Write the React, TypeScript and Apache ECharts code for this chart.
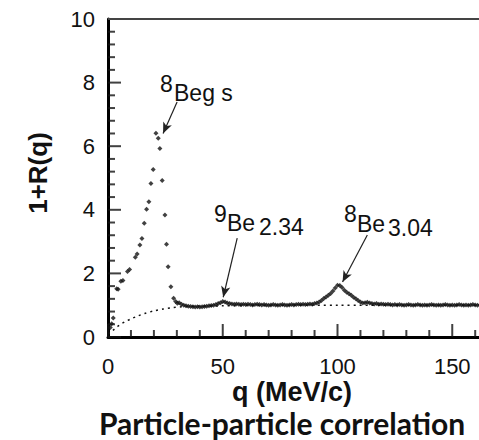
import React, { useEffect, useRef } from "react";
import * as echarts from "echarts";

// Sharp 8Be ground-state peak region (q in MeV/c, 1+R(q))
const peakPoints: [number, number][] = [
  [1.0, 0.3], [1.6, 0.42], [2.3, 0.6], [3.8, 1.52], [4.4, 1.5], [5.6, 1.75], [6.5, 1.78],
  [8.5, 2.06], [9.4, 2.12], [11.9, 2.51], [12.7, 2.61], [13.9, 2.89], [14.8, 3.1],
  [15.8, 3.58], [16.8, 4.02], [17.8, 4.25], [18.7, 4.83], [19.7, 5.27], [20.9, 6.41],
  [21.9, 6.25], [22.6, 5.93], [23.6, 4.92], [24.8, 3.84], [25.5, 2.92], [26.2, 2.21],
  [27.4, 1.58], [28.6, 1.22], [29.5, 1.12], [30.2, 1.06],
];

// Dense plateau with 9Be(2.34) and 8Be(3.04) bumps
const plateauPoints: [number, number][] = [
  [31, 1.08], [32, 1.03], [33, 1.0], [34, 0.98], [35, 0.97], [36, 0.96], [37, 0.95], [38, 0.94],
  [39, 0.95], [40, 0.94], [41, 0.95], [42, 0.96], [43, 0.97], [44, 0.98], [45, 0.99], [46, 1.0],
  [47, 1.02], [48, 1.05], [49, 1.08], [50, 1.12], [51, 1.1], [52, 1.07], [53, 1.05], [54, 1.04],
  [55, 1.03], [56, 1.04], [57, 1.03], [58, 1.02], [59, 1.03], [60, 1.02], [61, 1.03], [62, 1.02],
  [63, 1.01], [64, 1.02], [65, 1.03], [66, 1.02], [67, 1.01], [68, 1.02], [69, 1.01], [70, 1.0],
  [71, 1.01], [72, 1.02], [73, 1.01], [74, 1.0], [75, 1.01], [76, 1.02], [77, 1.01], [78, 1.0],
  [79, 1.01], [80, 1.02], [81, 1.01], [82, 1.02], [83, 1.03], [84, 1.02], [85, 1.03], [86, 1.02],
  [87, 1.03], [88, 1.04], [89, 1.03], [90, 1.05], [91, 1.07], [92, 1.1], [93, 1.15], [94, 1.21],
  [95, 1.26], [96, 1.31], [97, 1.37], [98, 1.45], [99, 1.54], [100, 1.63], [101, 1.62], [102, 1.56],
  [103, 1.47], [104, 1.41], [105, 1.36], [106, 1.31], [107, 1.25], [108, 1.2], [109, 1.15], [110, 1.1],
  [111, 1.07], [112, 1.08], [113, 1.09], [114, 1.07], [115, 1.05], [116, 1.04], [117, 1.05], [118, 1.03],
  [119, 1.04], [120, 1.03], [121, 1.02], [122, 1.03], [123, 1.02], [124, 1.01], [125, 1.02], [126, 1.01],
  [127, 1.02], [128, 1.01], [129, 1.0], [130, 1.01], [131, 1.02], [132, 1.01], [133, 1.0], [134, 1.01],
  [135, 1.02], [136, 1.01], [137, 1.0], [138, 1.01], [139, 1.0], [140, 1.01], [141, 1.02], [142, 1.01],
  [143, 1.0], [144, 1.01], [145, 1.0], [146, 1.01], [147, 1.02], [148, 1.01], [149, 1.0], [150, 1.01],
  [151, 1.0], [152, 1.01], [153, 1.02], [154, 1.01], [155, 1.0], [156, 1.01], [157, 1.0], [158, 1.01],
  [159, 1.02], [160, 1.01], [161, 1.0], [162, 1.01],
];

// Dotted background (uncorrelated) curve
const fitCurve: [number, number][] = [
  [0, 0.1], [2, 0.2], [4, 0.32], [6, 0.42], [8, 0.5], [10, 0.57], [13, 0.66], [16, 0.74],
  [20, 0.82], [24, 0.88], [28, 0.92], [32, 0.95], [38, 0.97], [50, 0.98], [65, 0.99],
  [80, 1.0], [100, 1.0], [130, 1.0], [165, 1.0],
];

// Arrow annotations: [from, to] in data coordinates
const arrows: [[number, number], [number, number]][] = [
  [[30.1, 7.39], [24.0, 6.4]],
  [[56.3, 3.11], [50.2, 1.25]],
  [[113.0, 3.21], [102.2, 1.73]],
];

// Top frame line of the plot box (q range at 1+R = 10)
const frameTop: [[number, number], [number, number]] = [[0, 10], [200, 10]];

// Inward tick marks
const xMajorTicks = [0, 50, 100, 150];
const xMinorTicks = [10, 20, 30, 40, 60, 70, 80, 90, 110, 120, 130, 140, 160];
const yMajorTicks = [0, 2, 4, 6, 8, 10];
const yMinorTicks = [
  0.4, 0.8, 1.2, 1.6, 2.4, 2.8, 3.2, 3.6, 4.4, 4.8, 5.2, 5.6,
  6.4, 6.8, 7.2, 7.6, 8.4, 8.8, 9.2, 9.6,
];

const xTitle = "q (MeV/c)";
const yTitle = "1+R(q)";
const chartTitle = "Particle-particle correlation";

export default function App() {
  const ref = useRef<HTMLDivElement>(null);
  useEffect(() => {
    if (!ref.current) return;
    const chart = echarts.init(ref.current, null, { renderer: "svg" });
    const labelFont = { fontFamily: "Liberation Sans", fontSize: 22, color: "#111" };
    const annFont = '23px "Liberation Sans"';
    const txt = (text: string, x: number, y: number, font: string, align = "left", extra: any = {}, lh?: number) => ({
      type: "text",
      x,
      y,
      ...extra,
      style: {
        text,
        font,
        fill: "#111",
        align,
        textAlign: align,
        verticalAlign: "middle",
        textVerticalAlign: "middle",
        ...(lh ? { lineHeight: lh } : {}),
      },
    });
    const tickScatter = (values: number[], isX: boolean, len: number) => ({
      type: "scatter",
      silent: true,
      clip: false,
      z: 3,
      data: values.map((v) => (isX ? [v, 0] : [0, v])),
      symbol: "rect",
      symbolSize: isX ? [2, len] : [len, 2],
      symbolOffset: isX ? [0, -len / 2] : [len / 2, 0],
      itemStyle: { color: "#111" },
    });
    chart.setOption({
      animation: false,
      backgroundColor: "#fff",
      grid: { left: 108, top: 19, bottom: 103, right: -88, outerBoundsMode: "none", containLabel: false },
      xAxis: {
        type: "value",
        min: 0,
        max: 200,
        interval: 50,
        axisLine: { show: true, onZero: false, lineStyle: { color: "#000", width: 3 } },
        axisTick: { show: false },
        minorTick: { show: false },
        axisLabel: { margin: 18, showMaxLabel: false, ...labelFont },
        splitLine: { show: false },
      },
      yAxis: {
        type: "value",
        min: 0,
        max: 10,
        interval: 2,
        axisLine: { show: true, onZero: false, lineStyle: { color: "#000", width: 3 } },
        axisTick: { show: false },
        minorTick: { show: false },
        axisLabel: { margin: 13, ...labelFont },
        splitLine: { show: false },
      },
      series: [
        {
          type: "line",
          data: fitCurve,
          showSymbol: false,
          smooth: 0.3,
          lineStyle: { type: [2, 4], width: 1.5, color: "#111" },
          z: 1,
          markLine: {
            silent: true,
            symbol: ["none", "none"],
            label: { show: false },
            lineStyle: { color: "#444", width: 2, type: "solid" },
            data: [[{ coord: frameTop[0] }, { coord: frameTop[1] }]],
          },
        },
        {
          type: "scatter",
          data: [...peakPoints, ...plateauPoints],
          symbol: "diamond",
          symbolSize: 5,
          itemStyle: { color: "#111" },
          z: 2,
          markLine: {
            silent: true,
            symbol: ["none", "arrow"],
            symbolSize: [7, 11],
            label: { show: false },
            lineStyle: { color: "#222", width: 1.2, type: "solid" },
            data: arrows.map(([a, b]) => [{ coord: a }, { coord: b }]),
          },
        },
        tickScatter(xMajorTicks, true, 13),
        tickScatter(xMinorTicks, true, 7),
        tickScatter(yMajorTicks, false, 13),
        tickScatter(yMinorTicks, false, 7),
      ],
      graphic: [
        txt(yTitle, 38, 173, 'bold 26px "Liberation Sans"', "center", { rotation: Math.PI / 2 }),
        txt(xTitle, 292, 392, 'bold 27px "Liberation Sans"', "center", {}, 24),
        txt(chartTitle, 282, 423, 'bold 30px "Lato"', "center", {}, 26),
        txt("8", 160, 84, annFont),
        txt("Beg s", 174, 93, annFont),
        txt("9", 214, 214, annFont),
        txt("Be", 227, 223, annFont),
        txt("2.34", 259, 227, annFont),
        txt("8", 344, 214, annFont),
        txt("Be", 357, 224, annFont),
        txt("3.04", 388, 228, annFont),
      ],
    });
    return () => chart.dispose();
  }, []);
  return (
    <div
      ref={ref}
      style={{ position: "fixed", left: 0, top: 0, width: 479, height: 440 }}
    />
  );
}
